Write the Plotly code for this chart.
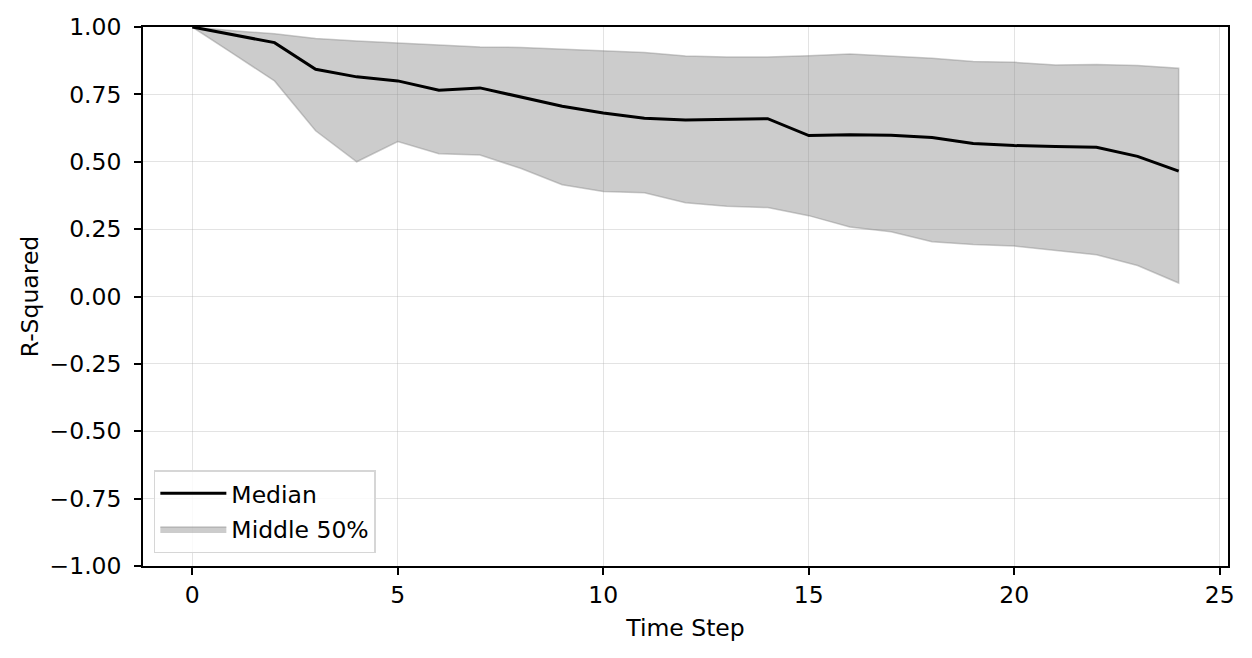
import plotly.graph_objects as go

time_step = list(range(25))
median = [1.00, 0.970, 0.942, 0.843, 0.815, 0.800, 0.765, 0.774, 0.740, 0.706,
          0.681, 0.661, 0.655, 0.658, 0.660, 0.597, 0.600, 0.598, 0.590, 0.568,
          0.560, 0.557, 0.554, 0.520, 0.465]
upper = [1.00, 0.986, 0.975, 0.957, 0.948, 0.940, 0.934, 0.926, 0.924, 0.917,
         0.911, 0.905, 0.892, 0.889, 0.889, 0.893, 0.900, 0.892, 0.884, 0.872,
         0.869, 0.859, 0.861, 0.857, 0.847]
lower = [1.00, 0.900, 0.800, 0.615, 0.500, 0.575, 0.530, 0.525, 0.475, 0.415,
         0.390, 0.385, 0.348, 0.335, 0.330, 0.300, 0.258, 0.240, 0.203, 0.193,
         0.187, 0.170, 0.155, 0.115, 0.050]
y_ticks = [-1.0, -0.75, -0.5, -0.25, 0.0, 0.25, 0.5, 0.75, 1.0]
x_ticks = [0, 5, 10, 15, 20, 25]

FONT = "DejaVu Sans"
FS = 23.5
fig = go.Figure()
fig.add_trace(go.Scatter(
    x=time_step + time_step[::-1], y=upper + lower[::-1],
    fill="toself", fillcolor="rgba(128,128,128,0.4)",
    line=dict(color="rgba(128,128,128,0.4)", width=1.5),
    mode="lines", name="Middle 50%", legendrank=2, legendgroup="b",
    hoverinfo="skip"))
fig.add_trace(go.Scatter(
    x=time_step, y=median, mode="lines", name="Median", legendgroup="a",
    line=dict(color="black", width=3), legendrank=1))

axis_common = dict(
    showline=True, linecolor="black", linewidth=1.6, mirror=True,
    ticks="outside", ticklen=7, tickwidth=1.6, tickcolor="black",
    showgrid=True, gridcolor="rgba(176,176,176,0.35)", gridwidth=1.3,
    zeroline=False, automargin=False,
    tickfont=dict(family=FONT, size=FS, color="black"),
)
fig.update_xaxes(range=[-1.2, 25.2], tickvals=x_ticks,
                 title=dict(text="Time Step", font=dict(family=FONT, size=FS, color="black"), standoff=12),
                 **axis_common)
fig.update_yaxes(range=[-1.0, 1.0], tickvals=y_ticks,
                 ticktext=[f"{v:.2f}".replace("-", "\u2212") for v in y_ticks],
                 ticklabelstandoff=8,
                 title=dict(text="R-Squared", font=dict(family=FONT, size=FS, color="black"), standoff=4),
                 **axis_common)
fig.update_layout(
    width=1252, height=658,
    margin=dict(l=135, r=32, t=19, b=100, autoexpand=False),
    plot_bgcolor="white", paper_bgcolor="white",
    font=dict(family=FONT, size=FS, color="black"),
    legend=dict(x=0.01, y=0.024, xanchor="left", yanchor="bottom",
                bgcolor="rgba(255,255,255,0.8)", bordercolor="#d6d6d6", borderwidth=1.5,
                font=dict(family=FONT, size=FS, color="black"),
                traceorder="grouped", tracegroupgap=2, itemwidth=66),
    showlegend=True,
)
fig.write_html("out.html")
